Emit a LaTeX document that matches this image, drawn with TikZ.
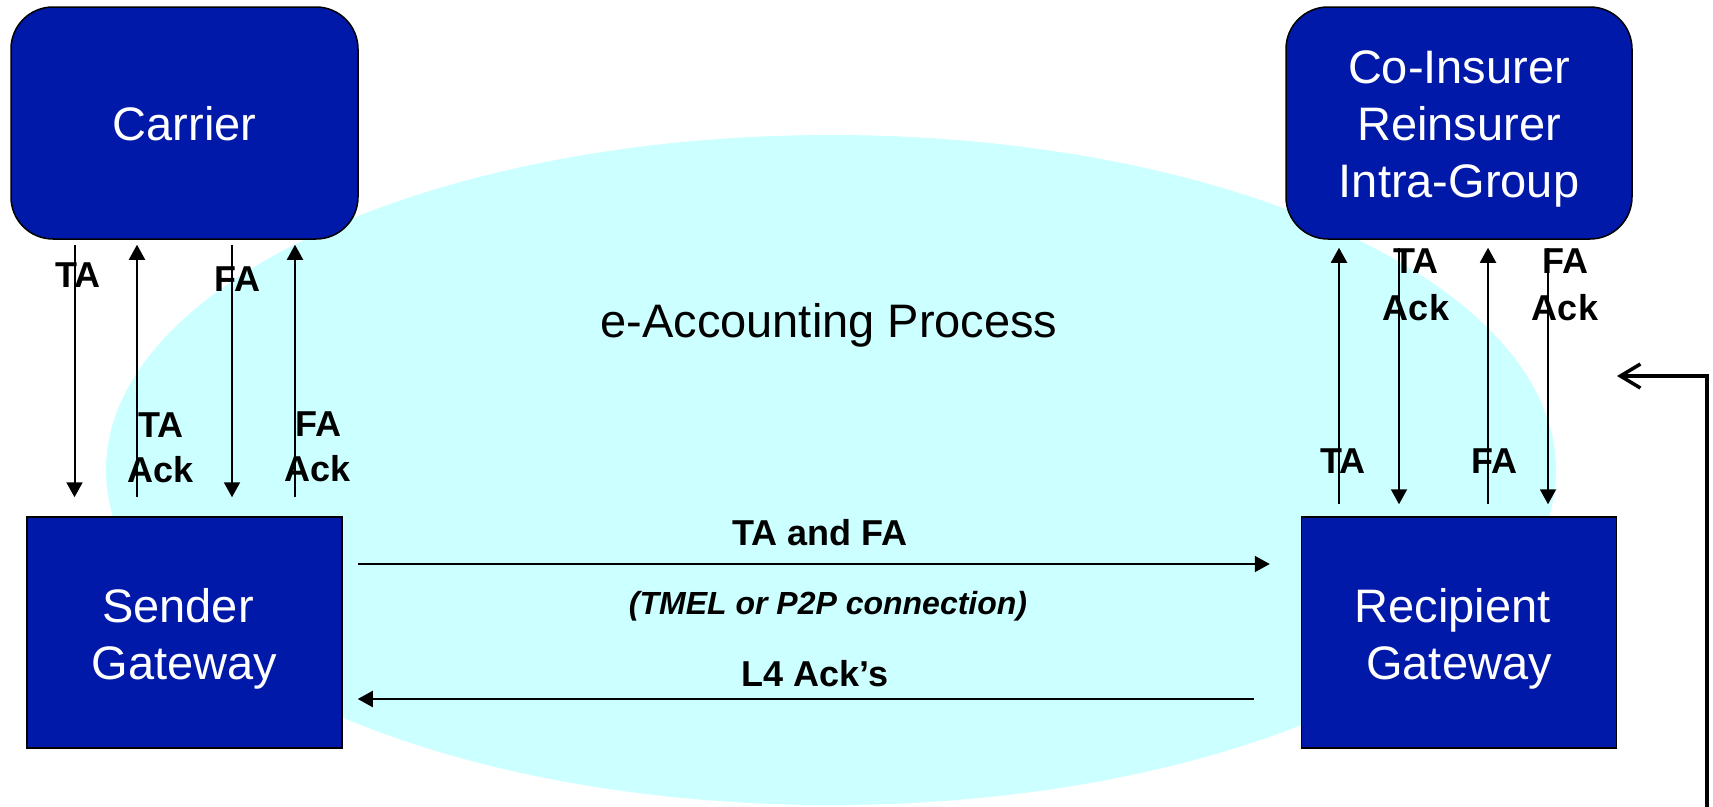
\documentclass[tikz,border=0pt]{standalone}
\usepackage{fontspec}
\setmainfont{Liberation Sans}
\usetikzlibrary{arrows.meta,calc}
\definecolor{gwblue}{RGB}{0,25,168}
\definecolor{procfill}{RGB}{204,255,255}

\begin{document}
\begin{tikzpicture}[x=1pt,y=-1pt,
  party/.style={draw=black, line width=1.5pt, fill=gwblue, rounded corners=42pt, inner sep=0pt},
  gateway/.style={draw=black, line width=1.5pt, fill=gwblue, inner sep=0pt},
  boxtext/.style={text=white, font=\fontsize{47}{57}\selectfont, align=center, inner sep=0pt},
  msg/.style={-{Triangle[length=15pt,width=16pt]}, line width=2pt},
  lbl/.style={font=\fontsize{36}{43}\selectfont\bfseries, anchor=base, inner sep=0pt},
  note/.style={font=\fontsize{32}{38}\selectfont\bfseries\itshape, anchor=base, inner sep=0pt},
  title/.style={font=\fontsize{47}{57}\selectfont, anchor=base, inner sep=0pt},
  feedback/.style={line width=3.5pt, -{Straight Barb[length=20pt,width=24pt]}}
]
\useasboundingbox (0,0) rectangle (1713,806);

% process area
\fill[procfill] (831,470) ellipse [x radius=725pt, y radius=335pt];

% parties and gateways
\node[party, minimum width=347pt, minimum height=232pt] (carrier) at (184.5,123) {};
\node[party, minimum width=346pt, minimum height=232pt] (insurer) at (1459,123) {};
\node[gateway, minimum width=315pt, minimum height=231pt] (sender) at (184.5,632.5) {};
\node[gateway, minimum width=315pt, minimum height=231pt] (recipient) at (1459,632.5) {};

\node[boxtext] (carriertext) at ($(carrier.center)+(0,1)$) {Carrier};
\node[boxtext] (insurertext) at ($(insurer.center)+(0,6)$) {Co-Insurer\\Reinsurer\\Intra-Group};
\node[boxtext] (sendertext) at ($(sender.center)+(0,6.5)$) {Sender\hspace*{0.28em}\\Gateway};
\node[boxtext] (recipienttext) at ($(recipient.center)+(0,6.5)$) {Recipient\hspace*{0.28em}\\Gateway};

% title of the process
\node[title] (proc) at (829,337) {e-Accounting Process};

% carrier <-> sender gateway
\draw[msg] ($(carrier.south)+(-110,5)$) -- ($(sender.north)+(-110,-19)$);
\draw[msg] ($(sender.north)+(-47.5,-19)$) -- ($(carrier.south)+(-47.5,5)$);
\draw[msg] ($(carrier.south)+(47.5,5)$) -- ($(sender.north)+(47.5,-19)$);
\draw[msg] ($(sender.north)+(110.5,-19)$) -- ($(carrier.south)+(110.5,5)$);

\node[lbl] (lta) at (78,287) {TA};
\node[lbl] (lfa) at (237,291) {FA};
\node[lbl] (ltaack1) at (161,437) {TA};
\node[lbl] (ltaack2) at (161,482) {Ack};
\node[lbl] (lfaack1) at (318,436) {FA};
\node[lbl] (lfaack2) at (318,481) {Ack};

% recipient gateway <-> insurer
\draw[msg] ($(recipient.north)+(-120,-12)$) -- ($(insurer.south)+(-120,8)$);
\draw[msg] ($(insurer.south)+(-60,8)$) -- ($(recipient.north)+(-60,-12)$);
\draw[msg] ($(recipient.north)+(29,-12)$) -- ($(insurer.south)+(29,8)$);
\draw[msg] ($(insurer.south)+(89,8)$) -- ($(recipient.north)+(89,-12)$);

\node[lbl] (rtaack1) at (1416,273) {TA};
\node[lbl] (rtaack2) at (1416,320) {Ack};
\node[lbl] (rfaack1) at (1565,273) {FA};
\node[lbl] (rfaack2) at (1565,320) {Ack};
\node[lbl] (rta) at (1343,473) {TA};
\node[lbl] (rfa) at (1494,473) {FA};

% gateway to gateway
\draw[msg] ($(sender.east)+(15,-68.5)$) -- ($(recipient.west)+(-31,-68.5)$);
\draw[msg] ($(recipient.west)+(-47,66.5)$) -- ($(sender.east)+(15,66.5)$);

\node[lbl] (tafa) at (820,545) {TA and FA};
\node[note] (conn) at (828,614) {(TMEL or P2P connection)};
\node[lbl] (l4) at (815,686) {L4 Ack’s};

% return path on the right
\coordinate (fbfoot) at (1707,812);
\coordinate (fbtip) at (1617,376);
\draw[feedback] (fbfoot) |- (fbtip);
\end{tikzpicture}
\end{document}
